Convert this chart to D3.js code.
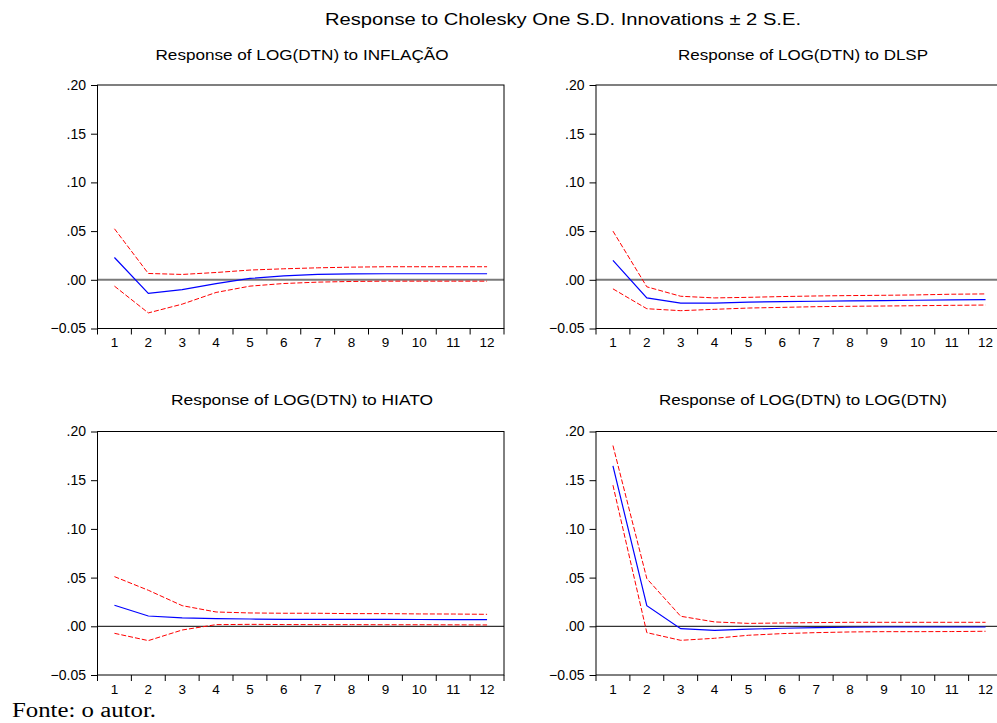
<!DOCTYPE html>
<html>
<head>
<meta charset="utf-8">
<script src="https://cdn.jsdelivr.net/npm/d3@7"></script>
<style>
  body { margin: 0; background: #fff; }
  svg { display: block; }
</style>
</head>
<body>
<div id="chart"></div>
<script>
var width = 997;
var height = 723;

var steps = [1, 2, 3, 4, 5, 6, 7, 8, 9, 10, 11, 12];
var yTicks = [-0.05, 0, 0.05, 0.10, 0.15, 0.20];

var mainTitle = "Response to Cholesky One S.D. Innovations \u00b1 2 S.E.";
var panelTitles = [
  "Response of LOG(DTN) to INFLA\u00c7\u00c3O",
  "Response of LOG(DTN) to DLSP",
  "Response of LOG(DTN) to HIATO",
  "Response of LOG(DTN) to LOG(DTN)"
];

// response of LOG(DTN) to INFLACAO
var inflResp = [0.0229, -0.0140, -0.0100, -0.0040, 0.0014, 0.0040, 0.0055, 0.0060, 0.0062, 0.0062, 0.0062, 0.0062];
var inflUpper = [0.0524, 0.0065, 0.0055, 0.0075, 0.0100, 0.0113, 0.0123, 0.0130, 0.0134, 0.0134, 0.0134, 0.0134];
var inflLower = [-0.0065, -0.0340, -0.0250, -0.0130, -0.0065, -0.0038, -0.0024, -0.0017, -0.0014, -0.0014, -0.0014, -0.0014];

// response of LOG(DTN) to DLSP
var dlspResp = [0.0200, -0.0186, -0.0240, -0.0240, -0.0230, -0.0224, -0.0220, -0.0217, -0.0214, -0.0210, -0.0207, -0.0203];
var dlspUpper = [0.0500, -0.0072, -0.0169, -0.0186, -0.0180, -0.0172, -0.0166, -0.0162, -0.0159, -0.0155, -0.0148, -0.0145];
var dlspLower = [-0.0093, -0.0297, -0.0317, -0.0303, -0.0290, -0.0283, -0.0276, -0.0272, -0.0269, -0.0266, -0.0262, -0.0259];

// response of LOG(DTN) to HIATO
var hiatoResp = [0.0216, 0.0106, 0.0086, 0.0079, 0.0075, 0.0072, 0.0072, 0.0072, 0.0071, 0.0070, 0.0069, 0.0068];
var hiatoUpper = [0.0510, 0.0370, 0.0212, 0.0147, 0.0137, 0.0134, 0.0134, 0.0130, 0.0130, 0.0127, 0.0126, 0.0123];
var hiatoLower = [-0.0072, -0.0147, -0.0038, 0.0017, 0.0020, 0.0018, 0.0017, 0.0017, 0.0016, 0.0016, 0.0015, 0.0014];

// response of LOG(DTN) to LOG(DTN)
var dtnResp = [0.1647, 0.0212, -0.0024, -0.0041, -0.0030, -0.0020, -0.0014, -0.0010, -0.0007, -0.0007, -0.0007, -0.0007];
var dtnUpper = [0.1856, 0.0490, 0.0103, 0.0045, 0.0030, 0.0034, 0.0038, 0.0041, 0.0041, 0.0041, 0.0041, 0.0041];
var dtnLower = [0.1449, -0.0065, -0.0144, -0.0123, -0.0092, -0.0075, -0.0065, -0.0058, -0.0055, -0.0055, -0.0054, -0.0051];

var panels = [
  { title: panelTitles[0], resp: inflResp, upper: inflUpper, lower: inflLower, col: 0, row: 0, tw: 293 },
  { title: panelTitles[1], resp: dlspResp, upper: dlspUpper, lower: dlspLower, col: 1, row: 0, tw: 250 },
  { title: panelTitles[2], resp: hiatoResp, upper: hiatoUpper, lower: hiatoLower, col: 0, row: 1, tw: 262 },
  { title: panelTitles[3], resp: dtnResp, upper: dtnUpper, lower: dtnLower, col: 1, row: 1, tw: 288 }
];

var colX = [[97.5, 504], [596, 1002.5]];
var rowY = [[85, 328.5], [431.5, 675]];
var titleY = [60, 405];

var svg = d3.select("#chart").append("svg")
  .attr("width", width)
  .attr("height", height);

svg.append("text")
  .attr("x", 563)
  .attr("y", 25)
  .attr("text-anchor", "middle")
  .attr("font-family", "Liberation Sans, Arial, sans-serif")
  .attr("font-size", "16px")
  .attr("textLength", 476)
  .attr("lengthAdjust", "spacingAndGlyphs")
  .attr("fill", "#000")
  .text(mainTitle);

function fmt(d) {
  return d3.format(".2f")(d).replace(/^(-?)0\./, "$1.");
}

panels.forEach(function (p) {
  var x0 = colX[p.col][0], x1 = colX[p.col][1];
  var y0 = rowY[p.row][0], y1 = rowY[p.row][1];

  var xScale = d3.scaleBand().domain(steps).range([x0, x1]);
  var yScale = d3.scaleLinear().domain([-0.05, 0.20]).range([y1, y0]);
  var cx = function (d, i) { return xScale(steps[i]) + xScale.bandwidth() / 2; };

  var g = svg.append("g");

  g.append("text")
    .attr("x", p.col === 0 ? 302 : 803)
    .attr("y", titleY[p.row])
    .attr("text-anchor", "middle")
    .attr("font-family", "Liberation Sans, Arial, sans-serif")
    .attr("font-size", "14px")
    .attr("textLength", p.tw)
    .attr("lengthAdjust", "spacingAndGlyphs")
    .text(p.title);

  // zero line
  g.append("line")
    .attr("x1", x0).attr("x2", x1)
    .attr("y1", yScale(0)).attr("y2", yScale(0))
    .attr("stroke", p.row === 0 ? "#7a7a7a" : "#000")
    .attr("stroke-width", p.row === 0 ? 2 : 1);

  var line = d3.line().x(cx).y(function (d) { return yScale(d); });

  [p.upper, p.lower].forEach(function (band) {
    g.append("path")
      .attr("d", line(band))
      .attr("fill", "none")
      .attr("stroke", "#ff0000")
      .attr("stroke-width", 1)
      .attr("stroke-dasharray", "5,2");
  });

  g.append("path")
    .attr("d", line(p.resp))
    .attr("fill", "none")
    .attr("stroke", "#0000ff")
    .attr("stroke-width", 1.2);

  // frame
  g.append("rect")
    .attr("x", x0).attr("y", y0)
    .attr("width", x1 - x0).attr("height", y1 - y0)
    .attr("fill", "none")
    .attr("stroke", "#000")
    .attr("stroke-width", 1);

  var yAxis = d3.axisLeft(yScale)
    .tickValues(yTicks)
    .tickFormat(fmt)
    .tickSizeInner(6.5)
    .tickSizeOuter(0)
    .tickPadding(5);

  var ya = g.append("g")
    .attr("transform", "translate(" + x0 + ",0)")
    .call(yAxis);
  ya.select(".domain").remove();
  ya.selectAll("text")
    .attr("font-family", "Liberation Sans, Arial, sans-serif")
    .attr("font-size", "14px")
    .attr("fill", "#000");

  var xAxis = d3.axisBottom(xScale)
    .tickSizeInner(0)
    .tickSizeOuter(0)
    .tickPadding(9);

  var xa = g.append("g")
    .attr("transform", "translate(0," + y1 + ")")
    .call(xAxis);
  xa.select(".domain").remove();
  xa.selectAll("text")
    .attr("font-family", "Liberation Sans, Arial, sans-serif")
    .attr("font-size", "13.5px")
    .attr("fill", "#000");

  // ticks at the band boundaries
  var bounds = steps.map(function (s) { return xScale(s); }).concat([x1]);
  g.selectAll(".xtick")
    .data(bounds)
    .enter()
    .append("line")
    .attr("x1", function (d) { return d; })
    .attr("x2", function (d) { return d; })
    .attr("y1", y1)
    .attr("y2", y1 + 6)
    .attr("stroke", "#000")
    .attr("stroke-width", 1);
});

svg.append("text")
  .attr("x", 12)
  .attr("y", 717)
  .attr("font-family", "Liberation Serif, Times New Roman, serif")
  .attr("font-size", "20px")
  .attr("textLength", 144)
  .attr("lengthAdjust", "spacingAndGlyphs")
  .text("Fonte: o autor.");
</script>
</body>
</html>
